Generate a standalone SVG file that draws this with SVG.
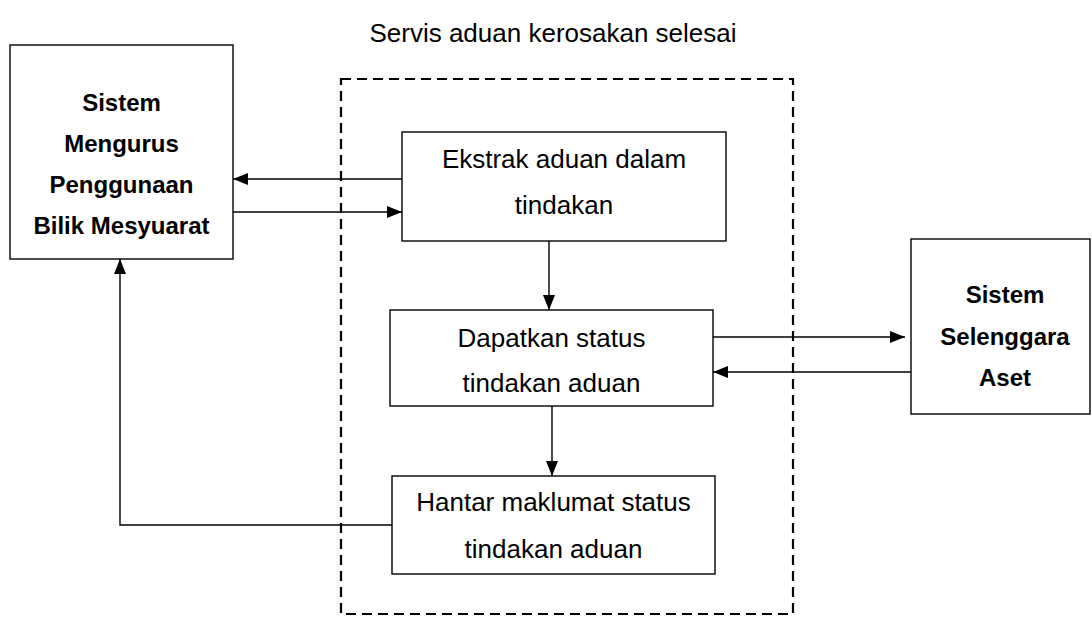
<svg xmlns="http://www.w3.org/2000/svg" width="1092" height="617" viewBox="0 0 1092 617">
<style>
.box{fill:#fff;stroke:#000;stroke-width:1.4}
.t{font-family:"Liberation Sans",Arial,sans-serif;font-size:26px;fill:#000;text-anchor:middle}
.b{font-family:"Liberation Sans",Arial,sans-serif;font-size:24px;font-weight:bold;fill:#000;text-anchor:middle}
.c{fill:none;stroke:#000;stroke-width:1.4}
.dash{fill:none;stroke:#000;stroke-width:2.2;stroke-dasharray:10 6}
</style>
<defs>
<marker id="ah" viewBox="0 0 15 12" refX="15" refY="6" markerWidth="15" markerHeight="12" markerUnits="userSpaceOnUse" orient="auto">
<path d="M0,0 L15,6 L0,12 Z" fill="#000"/>
</marker>
</defs>
<rect width="1092" height="617" fill="#fff"/>
<text class="t" x="553" y="42">Servis aduan kerosakan selesai</text>
<rect id="boundary" class="dash" x="341" y="79" width="452" height="535"/>
<g id="connectors">
<line class="c" x1="402" y1="179" x2="233" y2="179" marker-end="url(#ah)"/>
<line class="c" x1="233" y1="212" x2="402" y2="212" marker-end="url(#ah)"/>
<line class="c" x1="549" y1="241" x2="549" y2="310" marker-end="url(#ah)"/>
<line class="c" x1="713" y1="337" x2="905" y2="337" marker-end="url(#ah)"/>
<line class="c" x1="911" y1="372" x2="713" y2="372" marker-end="url(#ah)"/>
<line class="c" x1="552" y1="406" x2="552" y2="476" marker-end="url(#ah)"/>
<polyline class="c" points="392,525 120,525 120,259" marker-end="url(#ah)"/>
</g>
<g id="node-smbm">
<rect class="box" x="10" y="45" width="223" height="214"/>
<text class="b" x="121.5" y="111">Sistem</text>
<text class="b" x="121.5" y="152">Mengurus</text>
<text class="b" x="121.5" y="193">Penggunaan</text>
<text class="b" x="121.5" y="234">Bilik Mesyuarat</text>
</g>
<g id="node-ekstrak">
<rect class="box" x="402" y="132" width="324" height="109"/>
<text class="t" x="564" y="168">Ekstrak aduan dalam</text>
<text class="t" x="564" y="214">tindakan</text>
</g>
<g id="node-dapatkan">
<rect class="box" x="390" y="310" width="323" height="96"/>
<text class="t" x="551.5" y="347">Dapatkan status</text>
<text class="t" x="551.5" y="392">tindakan aduan</text>
</g>
<g id="node-hantar">
<rect class="box" x="392" y="476" width="323" height="98"/>
<text class="t" x="553.5" y="511">Hantar maklumat status</text>
<text class="t" x="553.5" y="558">tindakan aduan</text>
</g>
<g id="node-ssa">
<rect class="box" x="911" y="239" width="179" height="175"/>
<text class="b" x="1005" y="303">Sistem</text>
<text class="b" x="1005" y="345">Selenggara</text>
<text class="b" x="1005" y="386">Aset</text>
</g>
</svg>
